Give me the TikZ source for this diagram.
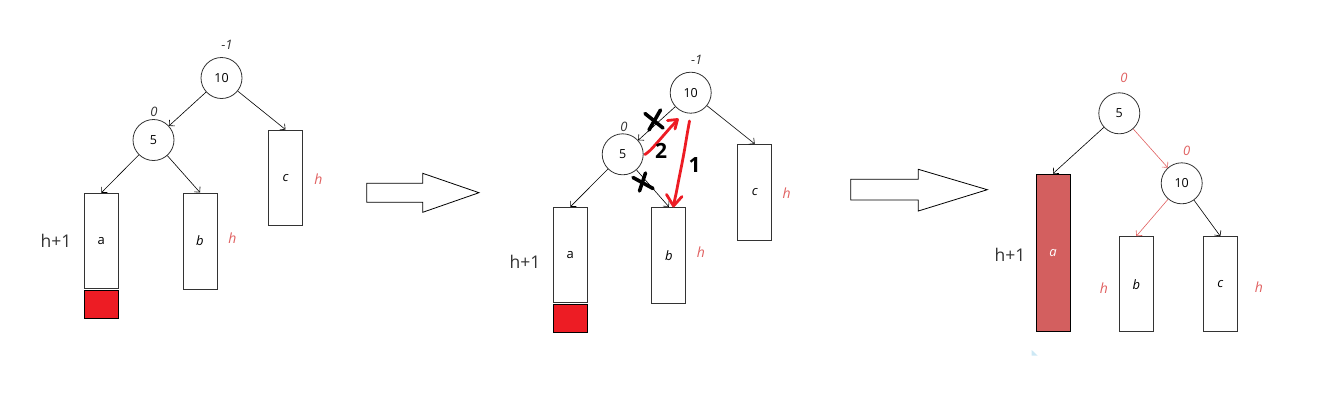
\documentclass[tikz,border=0pt]{standalone}
\usepackage{fontspec}
\setmainfont{Open Sans}
\usetikzlibrary{arrows.meta}
\definecolor{boxred}{HTML}{ED1C24}
\definecolor{softred}{HTML}{D35F5F}
\definecolor{labred}{HTML}{E06060}
\definecolor{edgegray}{HTML}{333333}
\definecolor{lightblue}{HTML}{CDE8F5}
\begin{document}
\begin{tikzpicture}[x=1pt,y=-1pt,
  circ/.style={draw=edgegray, circle, minimum size=41pt, inner sep=0pt, line width=0.8pt, font=\fontsize{12.5}{14}\selectfont},
  treebox/.style={rectangle, draw=edgegray, line width=1pt, minimum width=34pt, inner sep=0pt, font=\fontsize{13}{15}\selectfont},
  redbox/.style={rectangle, draw=black, fill=boxred, line width=1pt, minimum width=34pt, minimum height=28pt, inner sep=0pt},
  edge/.style={-{Straight Barb[length=4pt,width=8pt]}, line width=0.6pt, black},
  rededge/.style={-{Straight Barb[length=4pt,width=8pt]}, line width=0.6pt, labred},
  bal/.style={font=\fontsize{13}{15}\selectfont\itshape, text=edgegray},
  redbal/.style={font=\fontsize{13}{15}\selectfont\itshape, text=labred},
  hlab/.style={font=\fontsize{14}{16}\selectfont\itshape, text=labred},
  hone/.style={font=\fontsize{17.5}{20}\selectfont, text=edgegray},
  hollow/.style={draw=black, line width=0.8pt, fill=white, line join=miter},
  hand/.style={boxred, line width=2.8pt, line cap=round, line join=round},
  cross/.style={black, line width=3.6pt, line cap=round},
  handnum/.style={font=\fontsize{21}{23}\selectfont\bfseries, text=black}
]
\useasboundingbox (0,0) rectangle (1323,400);

% ---------- panel 1 ----------
\node[circ] (n10a) at (221.5,78) {10};
\node[circ] (n5a) at (153.5,140) {5};
\node[treebox, minimum height=95pt] (a1) at (101.3,240.8) {a};
\node[redbox] (r1) at (101.3,304) {};
\node[treebox, minimum height=96pt] (b1) at (200,241) {\itshape b};
\node[treebox, minimum height=95.7pt] (c1) at (285.5,177.9) {\itshape c};
\node[bal] (l10a) at (227,45) {-1};
\node[bal] (l5a) at (154,112) {0};
\node[hone] (ha1) at (56,241) {h+1};
\node[hlab] (hb1) at (232.3,238.3) {h};
\node[hlab] (hc1) at (318.3,179) {h};
\draw[edge] (n10a) -- (n5a);
\draw[edge] (n10a) -- (c1.north);
\draw[edge] (n5a) -- (a1.north);
\draw[edge] (n5a) -- (b1.north);

% ---------- hollow arrow 1 ----------
\draw[hollow] (366.7,183.3) -- (422.7,183.3) -- (422.7,173.3) -- (479,192.7) -- (422.7,212.3) -- (422.7,202.3) -- (366.7,202.3) -- cycle;

% ---------- panel 2 ----------
\node[circ] (n10b) at (690.7,92.7) {10};
\node[circ] (n5b) at (622.7,154.3) {5};
\node[treebox, minimum height=95pt] (a2) at (570.3,254.8) {a};
\node[redbox] (r2) at (570.3,318.2) {};
\node[treebox, minimum height=96pt] (b2) at (668.9,255.3) {\itshape b};
\node[treebox, minimum height=95.7pt] (c2) at (754.7,192.2) {\itshape c};
\node[bal] (l10b) at (696.7,60) {-1};
\node[bal] (l5b) at (624,126.7) {0};
\node[hone] (ha2) at (525,261.7) {h+1};
\node[hlab] (hb2) at (701,251.7) {h};
\node[hlab] (hc2) at (786.7,193.3) {h};
\draw[edge] (n10b) -- (n5b);
\draw[edge] (n10b) -- (c2.north);
\draw[edge] (n5b) -- (a2.north);
\draw[edge] (n5b) -- (b2.north);
% hand-drawn red strokes
\draw[hand] plot[smooth] coordinates {(689.5,121) (687,135) (684.5,150) (681.5,166) (678.5,181) (676,194) (673.5,205)};
\draw[hand] (666.5,194.5) -- (673.5,206) -- (682,196.5);
\draw[hand] plot[smooth] coordinates {(645,154.5) (650,150.5) (656,144) (663,136) (670,128) (677,120.5)};
\draw[hand] (667.5,120.5) -- (677.5,119.5) -- (675,129);
% crosses
\draw[cross] (645,113.5) -- (663,128);
\draw[cross] (649,130) -- (660.5,110);
\draw[cross] (633,177.5) -- (653,188.5);
\draw[cross] (639.5,191) -- (645.5,173);
\node[handnum] (two) at (661,150.5) {2};
\node[handnum] (one) at (694.5,165) {1};

% ---------- hollow arrow 2 ----------
\draw[hollow] (850.7,179.3) -- (918.3,179.3) -- (918.3,169.3) -- (987.3,189.7) -- (918.3,211) -- (918.3,200) -- (850.7,200) -- cycle;

% ---------- panel 3 ----------
\node[circ] (n5c) at (1119.3,113.3) {5};
\node[circ] (n10c) at (1181.7,183.3) {10};
\node[treebox, draw=black, fill=softred, minimum height=157.7pt, text=white] (a3) at (1053,252.9) {\itshape a};
\node[treebox, minimum height=95pt] (b3) at (1136.3,284.2) {\raisebox{-4pt}{\itshape b}};
\node[treebox, minimum height=95pt] (c3) at (1220.3,284.2) {\raisebox{-3pt}{\itshape c}};
\node[redbal] (l5c) at (1124,78.3) {0};
\node[redbal] (l10c) at (1186.7,150.7) {0};
\node[hone] (ha3) at (1010,255) {h+1};
\node[hlab] (hb3) at (1104,287.7) {h};
\node[hlab] (hc3) at (1259,286.7) {h};
\draw[edge] (n5c) -- (a3.north);
\draw[rededge] (n5c) -- (n10c);
\draw[rededge] (n10c) -- (b3.north);
\draw[edge] (n10c) -- (c3.north);
\fill[lightblue] (1031.7,350) -- (1031.7,355.5) -- (1037.5,355.5) -- cycle;
\end{tikzpicture}
\end{document}
